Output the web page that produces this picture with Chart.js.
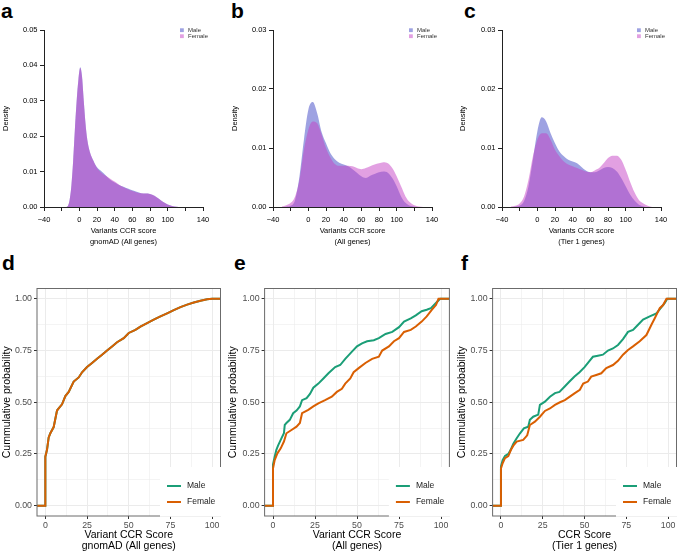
<!DOCTYPE html>
<html lang="en">
<head>
<meta charset="UTF-8">
<title>CCR score distributions by sex</title>
<script src="https://cdn.jsdelivr.net/npm/chart.js@4"></script>
<style>
  html, body { margin: 0; padding: 0; background: #fff; width: 677px; height: 555px; overflow: hidden; }
  .panel { position: absolute; }
  .tag { position: absolute; font: bold 21px "Liberation Sans", Arial, sans-serif; line-height: 21px; color: #000; }
</style>
</head>
<body>
<div class="tag" style="left:1px;top:0px">a</div>
<div class="tag" style="left:231px;top:0px">b</div>
<div class="tag" style="left:464px;top:0px">c</div>
<div class="tag" style="left:2px;top:252px">d</div>
<div class="tag" style="left:234px;top:252px">e</div>
<div class="tag" style="left:461px;top:252px">f</div>

<div class="panel" id="pa"><canvas id="ca"></canvas></div>
<div class="panel" id="pb"><canvas id="cb"></canvas></div>
<div class="panel" id="pc"><canvas id="cc"></canvas></div>
<div class="panel" id="pd"><canvas id="cd"></canvas></div>
<div class="panel" id="pe"><canvas id="ce"></canvas></div>
<div class="panel" id="pf"><canvas id="cf"></canvas></div>

<script>
// ---- data: density panels (a, b, c) ----
const densA_x      = [-15, -13, -11, -9, -7, -5, -3, -1, 1, 3, 5, 7, 9, 12, 16, 20, 25, 30, 35, 40, 45, 50, 55, 60, 65, 70, 75, 80, 85, 90, 95, 100, 105, 110, 115];
const densA_male   = [0, 0.0003, 0.002, 0.006, 0.013, 0.022, 0.030, 0.036, 0.0395, 0.037, 0.030, 0.0235, 0.019, 0.0155, 0.0131, 0.0112, 0.0101, 0.0089, 0.0077, 0.0069, 0.0062, 0.0057, 0.0052, 0.0047, 0.0043, 0.0039, 0.0038, 0.0037, 0.0032, 0.0023, 0.0014, 0.0007, 0.0003, 0.0001, 0];
const densA_female = [0, 0.0003, 0.002, 0.006, 0.013, 0.022, 0.030, 0.036, 0.0393, 0.0368, 0.030, 0.0235, 0.019, 0.0155, 0.0130, 0.0110, 0.0097, 0.0088, 0.0080, 0.0072, 0.0063, 0.0056, 0.0050, 0.0045, 0.0041, 0.0039, 0.0038, 0.0037, 0.0032, 0.0023, 0.0014, 0.0007, 0.0003, 0.0001, 0];

const densBC_x     = [-30, -25, -20, -15, -10, -5, 0, 5, 10, 15, 20, 25, 30, 35, 40, 45, 50, 55, 60, 65, 70, 75, 80, 85, 90, 95, 100, 105, 110, 115, 120, 125, 130];
const densB_male   = [0, 0.00005, 0.0002, 0.0012, 0.0052, 0.0114, 0.0165, 0.0178, 0.0159, 0.0127, 0.0108, 0.0091, 0.0081, 0.0075, 0.0072, 0.0069, 0.0064, 0.0058, 0.0052, 0.0049, 0.0053, 0.0056, 0.0059, 0.0060, 0.0058, 0.0049, 0.0035, 0.0018, 0.0007, 0.0002, 0.00005, 0, 0];
const densB_female = [0.0001, 0.0003, 0.0007, 0.0018, 0.0046, 0.0097, 0.0131, 0.0145, 0.0142, 0.0123, 0.0100, 0.0084, 0.0073, 0.0070, 0.0070, 0.0070, 0.0069, 0.0066, 0.0064, 0.0066, 0.0069, 0.0072, 0.0074, 0.0076, 0.0074, 0.0066, 0.0052, 0.0035, 0.0018, 0.0008, 0.0003, 0.0001, 0];
const densC_male   = [0, 0.00005, 0.0002, 0.0010, 0.0035, 0.0080, 0.0128, 0.0152, 0.0145, 0.0125, 0.0108, 0.0094, 0.0086, 0.0080, 0.0077, 0.0074, 0.0068, 0.0062, 0.0059, 0.0059, 0.0062, 0.0066, 0.0068, 0.0066, 0.0060, 0.0049, 0.0035, 0.0021, 0.0011, 0.0004, 0.0001, 0, 0];
const densC_female = [0.0001, 0.0002, 0.0006, 0.0018, 0.0046, 0.0086, 0.0114, 0.0125, 0.0125, 0.0114, 0.0097, 0.0086, 0.0077, 0.0072, 0.0069, 0.0066, 0.0063, 0.0060, 0.0059, 0.0062, 0.0066, 0.0074, 0.0083, 0.0087, 0.0087, 0.0080, 0.0063, 0.0043, 0.0025, 0.0012, 0.0006, 0.0002, 0];

// ---- data: cumulative panels (d, e, f) ----
const ecdfD_x = [-5, 0, 0, 1, 2, 3, 5, 7, 8, 10, 12, 14, 17, 20, 22, 25, 28, 31, 34, 37, 40, 43, 47, 50, 54, 57, 61, 65, 69, 73, 77, 81, 85, 89, 93, 97, 100, 105];
const ecdfD_y = [0, 0, 0.237, 0.27, 0.33, 0.35, 0.38, 0.46, 0.47, 0.49, 0.53, 0.55, 0.60, 0.62, 0.645, 0.67, 0.69, 0.71, 0.73, 0.75, 0.77, 0.79, 0.81, 0.835, 0.85, 0.866, 0.883, 0.90, 0.915, 0.93, 0.945, 0.96, 0.972, 0.982, 0.991, 0.998, 1.0, 1.0];

const ecdfE_maleX   = [-5, 0, 0, 1, 2, 3, 5, 6.5, 7, 8, 10, 12, 14, 16, 17.3, 20, 22, 24, 27, 30, 33, 37, 40, 43, 47, 50, 53, 56, 60, 63, 67, 71, 75, 78, 82, 85, 88.5, 91.5, 94, 97, 99.5, 105];
const ecdfE_maleY   = [0, 0, 0.20, 0.237, 0.27, 0.29, 0.325, 0.35, 0.39, 0.40, 0.415, 0.447, 0.46, 0.48, 0.51, 0.52, 0.54, 0.57, 0.59, 0.615, 0.64, 0.67, 0.68, 0.71, 0.745, 0.77, 0.785, 0.795, 0.80, 0.81, 0.83, 0.84, 0.863, 0.89, 0.906, 0.92, 0.94, 0.947, 0.955, 0.98, 1.0, 1.0];
const ecdfE_femaleX = [-5, 0, 0, 1, 2.6, 4.6, 6.5, 8, 11, 14, 16, 17.3, 21, 24, 27, 31, 35, 38, 41, 43, 46, 48, 51, 55, 59, 63, 65, 69, 72, 75, 78, 82, 85, 88.5, 91.5, 94.5, 97, 98.5, 105];
const ecdfE_femaleY = [0, 0, 0.18, 0.22, 0.253, 0.277, 0.31, 0.35, 0.366, 0.382, 0.40, 0.447, 0.463, 0.48, 0.495, 0.51, 0.527, 0.55, 0.565, 0.59, 0.615, 0.645, 0.665, 0.69, 0.71, 0.72, 0.75, 0.77, 0.795, 0.81, 0.84, 0.85, 0.866, 0.89, 0.915, 0.947, 0.97, 1.0, 1.0];

const ecdfF_maleX   = [-5, 0, 0, 1, 2.4, 4.4, 5.8, 7.4, 9.4, 11.4, 13.7, 16.3, 17.3, 19.3, 22.3, 23.3, 26.3, 29.3, 32.3, 35, 38, 41, 44, 47, 50, 53, 55, 58, 61, 64, 67, 70, 73, 76, 79, 82, 85, 89, 93, 96, 98, 99.5, 105];
const ecdfF_maleY   = [0, 0, 0.19, 0.22, 0.24, 0.25, 0.27, 0.30, 0.326, 0.35, 0.374, 0.382, 0.415, 0.43, 0.44, 0.487, 0.503, 0.527, 0.544, 0.55, 0.575, 0.60, 0.624, 0.645, 0.67, 0.70, 0.72, 0.725, 0.73, 0.75, 0.76, 0.777, 0.805, 0.84, 0.85, 0.875, 0.90, 0.915, 0.93, 0.96, 0.98, 1.0, 1.0];
const ecdfF_femaleX = [-5, 0, 0, 1, 2.4, 4.4, 6, 7.4, 9.4, 13.3, 15.7, 17.3, 20.3, 23.3, 26.3, 29.3, 32.3, 35.3, 38.2, 41.2, 44.2, 47.2, 49.2, 52, 54, 57, 60, 63, 67, 70, 73, 76, 79, 83, 87, 90, 92, 95, 97, 99, 105];
const ecdfF_femaleY = [0, 0, 0.18, 0.205, 0.23, 0.24, 0.27, 0.29, 0.31, 0.318, 0.34, 0.39, 0.406, 0.43, 0.458, 0.47, 0.487, 0.50, 0.51, 0.527, 0.544, 0.56, 0.59, 0.60, 0.624, 0.632, 0.64, 0.665, 0.68, 0.70, 0.73, 0.753, 0.77, 0.795, 0.825, 0.875, 0.906, 0.955, 0.97, 1.0, 1.0];

const densityTickLabels = [-40, 0, 20, 40, 60, 80, 100, 140];
const ecdfTickLabels = [0, 25, 50, 75, 100];

// ---- styling ----
const FONT = '"Liberation Sans", Arial, Helvetica, sans-serif';
Chart.defaults.font.family = FONT;
const MALE_FILL = 'rgba(61, 69, 197, 0.5)';
const FEMALE_FILL = 'rgba(197, 65, 197, 0.5)';
const MALE_LINE = '#1B9E77';
const FEMALE_LINE = '#D95F02';

// plugin: small in-panel legends, panel border for the ggplot panels
const decor = {
  id: 'decor',
  afterDraw(chart, args, opts) {
    const { ctx, chartArea: a } = chart;
    const sets = chart.data.datasets;
    ctx.save();
    if (opts.kind === 'density') {
      const x0 = a.right - opts.legendRight;
      sets.forEach((ds, i) => {
        const y = a.top - 1.7 + i * 6;
        ctx.fillStyle = ds.backgroundColor;
        ctx.fillRect(x0, y, 3.8, 3.8);
        ctx.fillStyle = '#333';
        ctx.font = '6px ' + FONT;
        ctx.textBaseline = 'middle';
        ctx.fillText(ds.label, x0 + 8, y + 2);
      });
    } else {
      ctx.strokeStyle = '#6b6b6b';
      ctx.lineWidth = 1;
      ctx.strokeRect(a.left, a.top, a.right - a.left, a.bottom - a.top);
      const bx = a.right - 60.5, by = a.bottom - 49;
      ctx.fillStyle = '#fff';
      ctx.fillRect(bx, by, a.right + 2 - bx, a.bottom + 0.8 - by);
      sets.forEach((ds, i) => {
        const y = a.bottom - 30 + i * 16;
        ctx.strokeStyle = ds.borderColor;
        ctx.lineWidth = 2;
        ctx.beginPath();
        ctx.moveTo(bx + 7, y);
        ctx.lineTo(bx + 21, y);
        ctx.stroke();
        ctx.fillStyle = '#222';
        ctx.font = '8.5px ' + FONT;
        ctx.textBaseline = 'middle';
        ctx.fillText(ds.label, bx + 27, y);
      });
    }
    ctx.restore();
  }
};

// place the canvas box so the plot area lands on [l, t, r, b]
function place(id, area, box) {
  const el = document.getElementById(id);
  el.style.left = box[0] + 'px';
  el.style.top = box[1] + 'px';
  el.style.width = (box[2] - box[0]) + 'px';
  el.style.height = (box[3] - box[1]) + 'px';
  return {
    yW: area[0] - box[0],
    xH: box[3] - area[3],
    padTop: area[1] - box[1],
    padRight: box[2] - area[2]
  };
}

function densityChart(canvasId, g, xs, male, female, yMax, subtitle, legendRight) {
  return new Chart(document.getElementById(canvasId), {
    type: 'line',
    data: {
      datasets: [
        { label: 'Male', data: xs.map((x, i) => ({ x, y: male[i] })), backgroundColor: MALE_FILL, order: 1 },
        { label: 'Female', data: xs.map((x, i) => ({ x, y: female[i] })), backgroundColor: FEMALE_FILL, order: 0 }
      ].map(ds => Object.assign(ds, { fill: 'origin', borderWidth: 0, pointRadius: 0, cubicInterpolationMode: 'monotone' }))
    },
    options: {
      responsive: true,
      maintainAspectRatio: false,
      animation: false,
      layout: { padding: { top: g.padTop, right: g.padRight, left: 0, bottom: 0 } },
      plugins: { legend: { display: false }, tooltip: { enabled: false }, decor: { kind: 'density', legendRight } },
      scales: {
        x: {
          type: 'linear', min: -40, max: 140,
          afterFit: s => { s.height = g.xH; },
          border: { display: true, color: '#222', width: 1 },
          grid: { drawOnChartArea: false, drawTicks: true, tickLength: 4, tickColor: '#222' },
          ticks: {
            stepSize: 20, autoSkip: false, maxRotation: 0, padding: 4.5, color: '#000', font: { size: 7.5 },
            callback: v => densityTickLabels.includes(v) ? String(v).replace('-', '\u2212') : ''
          },
          title: { display: true, text: ['Variants CCR score', subtitle], color: '#000', font: { size: 7.5, lineHeight: 1.47 }, padding: 0 }
        },
        y: {
          min: 0, max: yMax,
          afterFit: s => { s.width = g.yW; },
          border: { display: true, color: '#222', width: 1 },
          grid: { drawOnChartArea: false, drawTicks: true, tickLength: 4, tickColor: '#222' },
          ticks: { stepSize: 0.01, padding: 2.5, color: '#000', font: { size: 7.5 }, callback: v => v.toFixed(2) },
          title: { display: true, text: 'Density', color: '#000', font: { size: 7.5, lineHeight: 1.2 }, padding: 0 }
        }
      }
    },
    plugins: [decor]
  });
}

function ggGrid() {
  return {
    color: '#EBEBEB',
    lineWidth: c => c.index % 2 === 0 ? 1 : 0.55,
    drawTicks: true, tickLength: 3,
    tickColor: c => c.index % 2 === 0 ? '#333' : 'rgba(0,0,0,0)',
    tickWidth: 1
  };
}

function ecdfChart(canvasId, g, mx, my, fx, fy, titleLines) {
  const mk = (xs, ys) => xs.map((x, i) => ({ x, y: ys[i] }));
  return new Chart(document.getElementById(canvasId), {
    type: 'line',
    data: {
      datasets: [
        { label: 'Male', data: mk(mx, my), borderColor: MALE_LINE, order: 1 },
        { label: 'Female', data: mk(fx, fy), borderColor: FEMALE_LINE, order: 0 }
      ].map(ds => Object.assign(ds, { borderWidth: 2, pointRadius: 0, fill: false, borderJoinStyle: 'miter' }))
    },
    options: {
      responsive: true,
      maintainAspectRatio: false,
      animation: false,
      layout: { padding: { top: g.padTop, right: g.padRight, left: 0, bottom: 0 } },
      plugins: { legend: { display: false }, tooltip: { enabled: false }, decor: { kind: 'ecdf' } },
      scales: {
        x: {
          type: 'linear', min: -5, max: 105,
          afterBuildTicks: s => { s.ticks = [0, 12.5, 25, 37.5, 50, 62.5, 75, 87.5, 100].map(value => ({ value })); },
          afterFit: s => { s.height = g.xH; },
          border: { display: false },
          grid: ggGrid(),
          ticks: {
            autoSkip: false, maxRotation: 0, padding: 1.5, color: '#4D4D4D', font: { size: 8.8 },
            callback: v => ecdfTickLabels.includes(v) ? String(v) : ''
          },
          title: { display: true, text: titleLines, color: '#000', font: { size: 10.5, lineHeight: 1.05 }, padding: 0 }
        },
        y: {
          min: -0.05, max: 1.05,
          afterBuildTicks: s => { s.ticks = [0, 0.125, 0.25, 0.375, 0.5, 0.625, 0.75, 0.875, 1].map(value => ({ value })); },
          afterFit: s => { s.width = g.yW; },
          border: { display: false },
          grid: ggGrid(),
          ticks: {
            autoSkip: false, padding: 2, color: '#4D4D4D', font: { size: 8.8 },
            callback: (v, i) => i % 2 === 0 ? v.toFixed(2) : ''
          },
          title: { display: true, text: 'Cummulative probability', color: '#000', font: { size: 10.5, lineHeight: 1.05 }, padding: 0 }
        }
      }
    },
    plugins: [decor]
  });
}

// ---- top row: densities ----
const gA = place('pa', [44, 30, 203, 207], [1, 22, 215, 247]);
const gB = place('pb', [273, 30, 432, 207], [230, 22, 444, 247]);
const gC = place('pc', [502, 30, 661, 207], [458, 22, 673, 247]);
densityChart('ca', gA, densA_x, densA_male, densA_female, 0.05, 'gnomAD (All genes)', 23);
densityChart('cb', gB, densBC_x, densB_male, densB_female, 0.03, '(All genes)', 23);
densityChart('cc', gC, densBC_x, densC_male, densC_female, 0.03, '(Tier 1 genes)', 24);

// ---- bottom row: cumulative distributions ----
const gD = place('pd', [37, 288.5, 220.5, 516], [2, 280, 229, 552]);
const gE = place('pe', [264.6, 288.5, 449.4, 516], [228, 280, 458, 552]);
const gF = place('pf', [492.6, 288.5, 676.5, 516], [457, 280, 685, 552]);
ecdfChart('cd', gD, ecdfD_x, ecdfD_y, ecdfD_x, ecdfD_y, ['Variant CCR Score', 'gnomAD (All genes)']);
ecdfChart('ce', gE, ecdfE_maleX, ecdfE_maleY, ecdfE_femaleX, ecdfE_femaleY, ['Variant CCR Score', '(All genes)']);
ecdfChart('cf', gF, ecdfF_maleX, ecdfF_maleY, ecdfF_femaleX, ecdfF_femaleY, ['CCR Score', '(Tier 1 genes)']);
</script>
</body>
</html>
